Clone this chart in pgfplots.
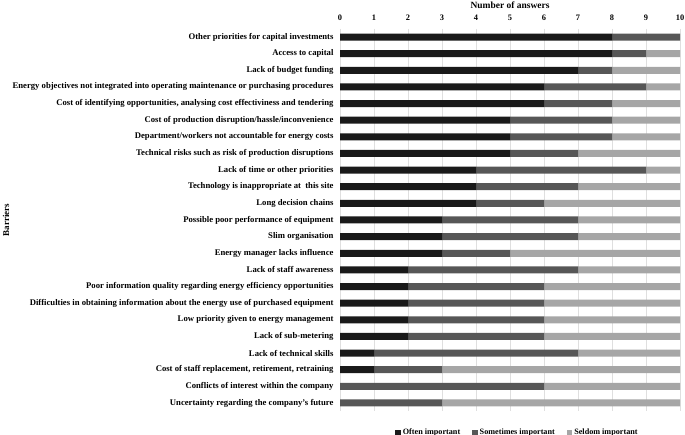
\documentclass[border=0pt]{standalone}
\usepackage{fontspec}
\setmainfont{Liberation Serif}
\usepackage{pgfplots}
\usepackage{pgfplotstable}
\pgfplotsset{compat=1.18}
\definecolor{often}{HTML}{1A1A1A}
\definecolor{sometimes}{HTML}{575757}
\definecolor{seldom}{HTML}{A6A6A6}
\pgfplotstableread{
idx often sometimes seldom
0 8 2 0
1 8 1 1
2 7 1 2
3 6 3 1
4 6 2 2
5 5 3 2
6 5 3 2
7 5 2 3
8 4 5 1
9 4 3 3
10 4 2 4
11 3 4 3
12 3 4 3
13 3 2 5
14 2 5 3
15 2 4 4
16 2 4 4
17 2 4 4
18 2 4 4
19 1 6 3
20 1 2 7
21 0 6 4
22 0 3 7
}\datatable
\begin{document}
\begin{tikzpicture}[x=1bp,y=1bp]
\useasboundingbox (0,0) rectangle (685,435);
\begin{axis}[
  at={(340bp,23.7bp)}, anchor=south west,
  scale only axis, width=340bp, height=382.6bp,
  xbar stacked, bar width=7bp,
  y dir=reverse,
  ymin=-0.5, ymax=22.5, xmin=0, xmax=10,
  xtick={0,...,10},
  ytick={0,...,22},
  yticklabels={
    Other priorities for capital investments,
    Access to capital,
    Lack of budget funding,
    Energy objectives not integrated into operating maintenance or purchasing procedures,
    {Cost of identifying opportunities, analysing cost effectiviness and tendering},
    Cost of production disruption/hassle/inconvenience,
    Department/workers not accountable for energy costs,
    Technical risks such as risk of production disruptions,
    Lack of time or other priorities,
    Technology is inappropriate at\ \ this site,
    Long decision chains,
    Possible poor performance of equipment,
    Slim organisation,
    Energy manager lacks influence,
    Lack of staff awareness,
    Poor information quality regarding energy efficiency opportunities,
    Difficulties in obtaining information about the energy use of purchased equipment,
    Low priority given to energy management,
    Lack of sub-metering,
    Lack of technical skills,
    {Cost of staff replacement, retirement, retraining},
    Conflicts of interest within the company,
    Uncertainty regarding the company's future},
  axis x line*=top,
  axis line style={draw=none},
  major tick length=0pt,
  xmajorgrids, grid style={gray!25, line width=0.6pt},
  /pgf/number format/assume math mode=true,
  yticklabel style={font=\bfseries\fontsize{8.7}{9}\selectfont, xshift=-3bp},
  xticklabel style={font=\bfseries\fontsize{8.4}{9}\selectfont, yshift=5bp},
  xlabel={Number of answers},
  xlabel style={font=\bfseries\fontsize{9.5}{10}\selectfont, yshift=-1bp},
  ylabel={Barriers},
  ylabel style={font=\bfseries\fontsize{9}{10}\selectfont, at={(rel axis cs:-0.982,0.5)}, anchor=center},
  legend columns=3,
  legend style={draw=none, at={(0.522,-0.035)}, anchor=north, font=\bfseries\fontsize{8.2}{9}\selectfont,
    /tikz/every even column/.append style={column sep=10bp}},
  legend image code/.code={\fill[#1] (0bp,-2.8bp) rectangle (5.5bp,2.7bp);},
]
\addplot[fill=often, draw=none] table[x=often, y=idx] {\datatable};
\addplot[fill=sometimes, draw=none] table[x=sometimes, y=idx] {\datatable};
\addplot[fill=seldom, draw=none] table[x=seldom, y=idx] {\datatable};
\legend{Often important, Sometimes important, Seldom important}
\end{axis}
\end{tikzpicture}
\end{document}
